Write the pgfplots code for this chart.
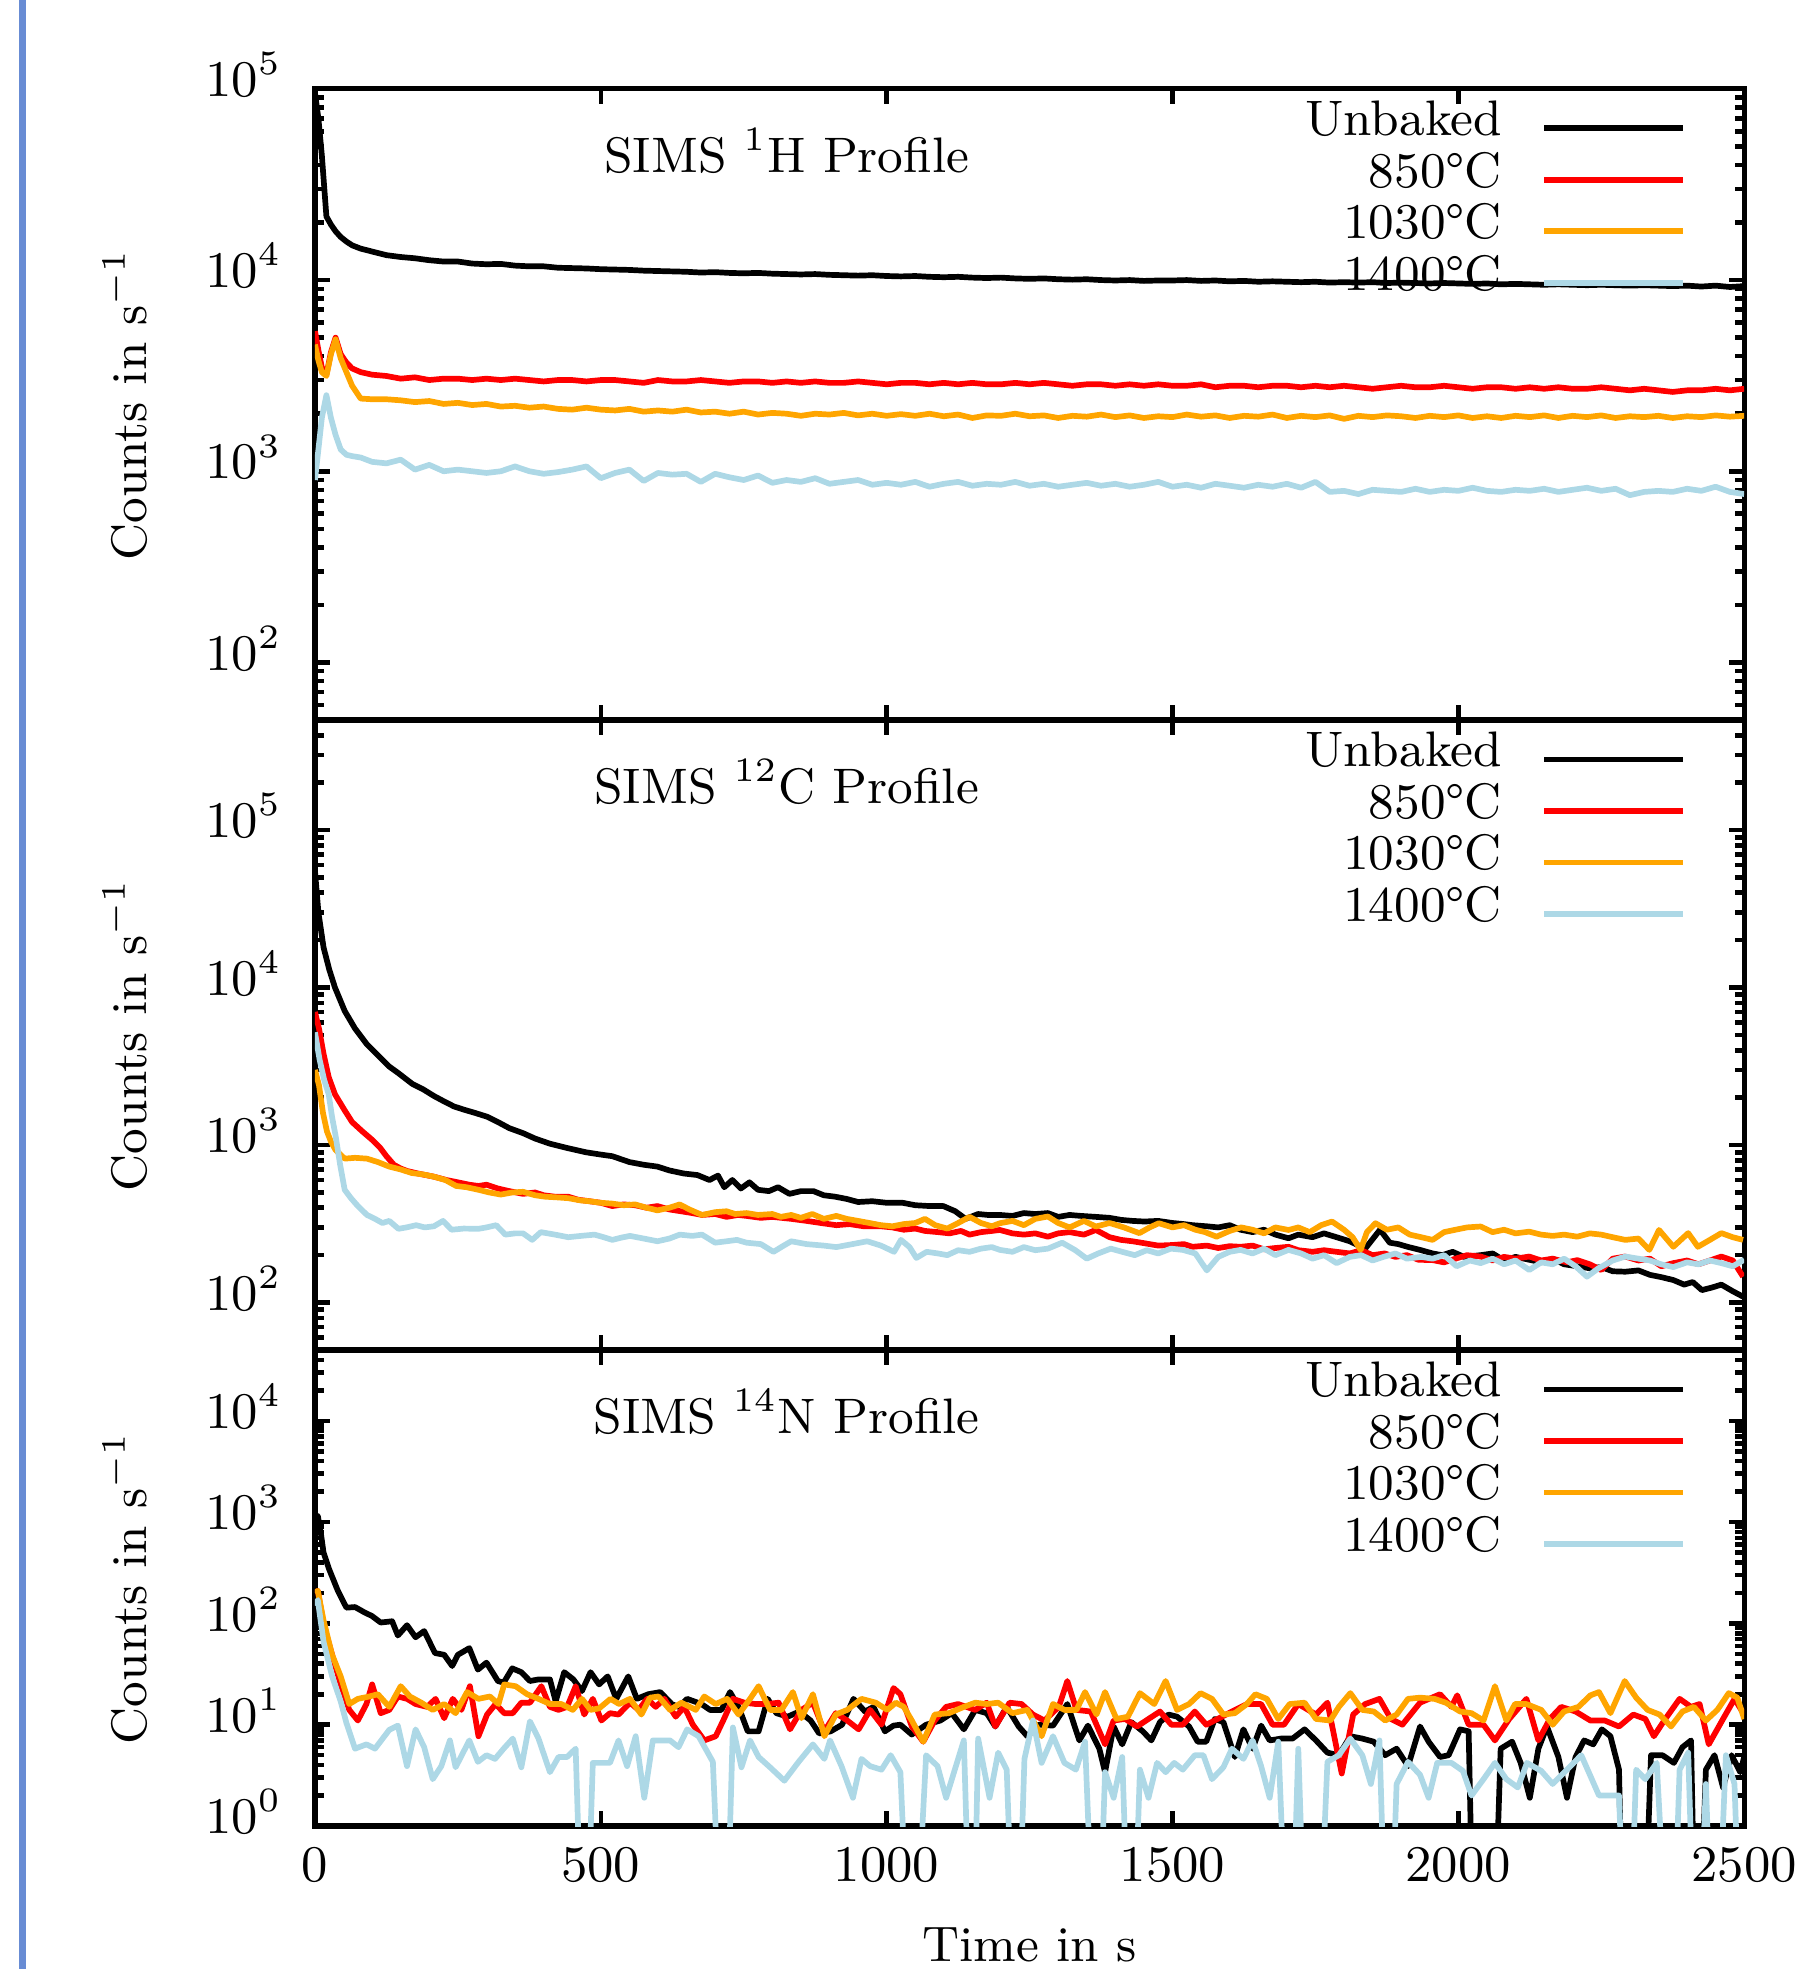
\documentclass[border=0pt]{standalone}
\usepackage{pgfplots}
\pgfplotsset{compat=1.18}
\definecolor{cOrange}{RGB}{255,165,0}
\definecolor{cBlue}{RGB}{173,216,230}
\definecolor{cFrame}{RGB}{104,140,212}
\pgfplotsset{
  /pgf/number format/1000 sep={},
  legend image code/.code={\draw[#1, line width=1pt] (0pt,-1.2pt) -- (24.4pt,-1.2pt);},
  every axis plot/.append style={line width=1pt, line join=round, mark=none},
  every axis y label/.style={at={(axis description cs:0,0.5)}, xshift=-29.5pt, rotate=90, anchor=base},
  every axis x label/.style={at={(axis description cs:0.5,0)}, yshift=-23.8pt, anchor=base},
  every tick label/.append style={font=\fontsize{9}{10.8}\selectfont},
  scale only axis, width=250.7pt,
  xmin=0, xmax=2500,
  xtick={0,500,1000,1500,2000,2500},
  tick align=inside, tick pos=both,
  xticklabel pos=lower, yticklabel pos=left,
  axis line style={line width=0.9pt},
  tick style={line width=0.8pt, black},
  major tick length=2.6pt, minor tick length=1.6pt,
  yticklabel style={xshift=-2.7pt, yshift=2.5pt},
  xticklabel style={yshift=-0.8pt},
  legend plot pos=right,
  legend cell align=right,
  legend style={draw=none, fill=none, at={(1,1)}, anchor=north east, xshift=-10.2pt, yshift=-1.2pt,
    inner sep=0pt, outer sep=0pt, row sep=0pt, column sep=6.9pt,
    nodes={inner sep=0pt, text height=7.03pt, text depth=2pt}},
}
\begin{document}
\fontsize{8.75}{10.5}\selectfont
\begin{tikzpicture}
\useasboundingbox (-55.25pt,-25.08pt) rectangle (260.47pt,320.3pt);
\draw[cFrame, line width=1.1pt] (-51.3pt,-25.08pt) -- (-51.3pt,320.3pt);

% ---------------- Top panel: 1H ----------------
\begin{semilogyaxis}[at={(0,194pt)}, anchor=south west, height=110.7pt,
  ymin=50, ymax=100000, ytick={100,1000,10000,100000},
  minor ytick={60,70,80,90,200,300,400,500,600,700,800,900,2000,3000,4000,5000,6000,7000,8000,9000,20000,30000,40000,50000,60000,70000,80000,90000},
  xticklabels={}, ylabel={Counts in s$^{-1}$}]
\node[anchor=base, yshift=-14.7pt] at (axis description cs:0.33,1) {SIMS $^{1}$H Profile};
\addplot[black] coordinates {(0,95000) (6,70000) (12,45000) (20,21500) (28,19500) (36,18000) (45,16800) (55,15900) (65,15200) (80,14600) (100,14100) (125,13500) (150,13200) (175,13000) (200,12700) (225,12500) (250,12500) (275,12200) (300,12100) (325,12150) (350,11900) (375,11800) (400,11800) (425,11600) (450,11550) (475,11500) (500,11400) (525,11350) (550,11300) (575,11200) (600,11150) (625,11100) (650,11050) (675,10950) (700,11000) (725,10900) (750,10850) (775,10900) (800,10800) (825,10750) (850,10700) (875,10750) (900,10650) (925,10600) (950,10550) (975,10600) (1000,10500) (1025,10450) (1050,10500) (1075,10400) (1100,10350) (1125,10400) (1150,10300) (1175,10250) (1200,10300) (1225,10200) (1250,10150) (1275,10200) (1300,10100) (1325,10050) (1350,10100) (1375,10000) (1400,9950) (1425,10000) (1450,9900) (1475,9950) (1500,9950) (1525,10000) (1550,9900) (1575,9950) (1600,9850) (1625,9900) (1650,9800) (1675,9850) (1700,9800) (1725,9750) (1750,9800) (1775,9700) (1800,9750) (1825,9700) (1850,9750) (1875,9650) (1900,9700) (1925,9650) (1950,9600) (1975,9650) (2000,9600) (2025,9550) (2050,9600) (2075,9500) (2100,9550) (2125,9500) (2150,9450) (2175,9500) (2200,9450) (2225,9400) (2250,9450) (2275,9400) (2300,9350) (2325,9400) (2350,9350) (2375,9300) (2400,9350) (2425,9250) (2450,9350) (2475,9200) (2500,9300)};
\addlegendentry{Unbaked}
\addplot[red] coordinates {(0,5400) (6,4300) (12,3500) (20,3200) (28,4200) (36,5000) (45,4100) (55,3700) (65,3450) (80,3300) (100,3200) (125,3150) (150,3050) (175,3100) (200,3000) (225,3050) (250,3050) (275,3000) (300,3050) (325,3000) (350,3050) (375,3000) (400,2950) (425,3000) (450,3000) (475,2950) (500,3000) (525,3000) (550,2950) (575,2900) (600,3000) (625,2950) (650,2950) (675,3000) (700,2950) (725,2900) (750,2950) (775,2950) (800,2900) (825,2950) (850,2900) (875,2950) (900,2900) (925,2900) (950,2950) (975,2900) (1000,2850) (1025,2900) (1050,2900) (1075,2850) (1100,2900) (1125,2850) (1150,2900) (1175,2850) (1200,2850) (1225,2900) (1250,2850) (1275,2900) (1300,2850) (1325,2800) (1350,2850) (1375,2850) (1400,2800) (1425,2850) (1450,2800) (1475,2850) (1500,2800) (1525,2800) (1550,2850) (1575,2750) (1600,2800) (1625,2800) (1650,2750) (1675,2800) (1700,2800) (1725,2750) (1750,2800) (1775,2750) (1800,2800) (1825,2750) (1850,2700) (1875,2750) (1900,2800) (1925,2750) (1950,2750) (1975,2800) (2000,2750) (2025,2700) (2050,2750) (2075,2750) (2100,2700) (2125,2750) (2150,2700) (2175,2750) (2200,2700) (2225,2700) (2250,2750) (2275,2700) (2300,2650) (2325,2700) (2350,2650) (2375,2600) (2400,2650) (2425,2650) (2450,2700) (2475,2650) (2500,2700)};
\addlegendentry{850\textdegree C}
\addplot[cOrange] coordinates {(0,4600) (6,3800) (12,3300) (20,3150) (28,4100) (36,4900) (45,3900) (55,3300) (65,2800) (80,2400) (100,2380) (125,2380) (150,2350) (175,2300) (200,2330) (225,2250) (250,2280) (275,2220) (300,2250) (325,2180) (350,2200) (375,2150) (400,2180) (425,2120) (450,2100) (475,2150) (500,2100) (525,2080) (550,2120) (575,2050) (600,2080) (625,2050) (650,2100) (675,2030) (700,2050) (725,2000) (750,2050) (775,1980) (800,2020) (825,2000) (850,1950) (875,2000) (900,1980) (925,2020) (950,1960) (975,2000) (1000,1950) (1025,1990) (1050,1950) (1075,2000) (1100,1940) (1125,1980) (1150,1900) (1175,1960) (1200,1950) (1225,2000) (1250,1940) (1275,1960) (1300,1900) (1325,1950) (1350,1930) (1375,1980) (1400,1920) (1425,1960) (1450,1900) (1475,1940) (1500,1920) (1525,1980) (1550,1930) (1575,1960) (1600,1900) (1625,1950) (1650,1930) (1675,1980) (1700,1900) (1725,1950) (1750,1920) (1775,1960) (1800,1880) (1825,1950) (1850,1920) (1875,1960) (1900,1940) (1925,1900) (1950,1950) (1975,1920) (2000,1960) (2025,1900) (2050,1940) (2075,1900) (2100,1950) (2125,1920) (2150,1960) (2175,1900) (2200,1950) (2225,1920) (2250,1960) (2275,1900) (2300,1940) (2325,1920) (2350,1950) (2375,1900) (2400,1940) (2425,1920) (2450,1960) (2475,1930) (2500,1950)};
\addlegendentry{1030\textdegree C}
\addplot[cBlue] coordinates {(0,900) (6,1300) (12,1900) (20,2500) (28,1900) (36,1550) (45,1300) (55,1220) (65,1200) (80,1180) (100,1120) (125,1100) (150,1150) (175,1020) (200,1080) (225,1000) (250,1020) (275,1000) (300,980) (325,1000) (350,1060) (375,1000) (400,970) (425,990) (450,1020) (475,1060) (500,920) (525,980) (550,1020) (575,890) (600,980) (625,960) (650,970) (675,880) (700,970) (725,930) (750,900) (775,950) (800,870) (825,900) (850,880) (875,920) (900,860) (925,880) (950,900) (975,850) (1000,870) (1025,850) (1050,880) (1075,830) (1100,860) (1125,880) (1150,840) (1175,860) (1200,850) (1225,880) (1250,840) (1275,860) (1300,830) (1325,850) (1350,870) (1375,840) (1400,860) (1425,830) (1450,850) (1475,880) (1500,830) (1525,850) (1550,820) (1575,860) (1600,840) (1625,820) (1650,850) (1675,830) (1700,860) (1725,820) (1750,880) (1775,780) (1800,790) (1825,760) (1850,800) (1875,790) (1900,780) (1925,810) (1950,780) (1975,800) (2000,790) (2025,820) (2050,790) (2075,780) (2100,800) (2125,790) (2150,810) (2175,780) (2200,800) (2225,820) (2250,790) (2275,810) (2300,750) (2325,780) (2350,790) (2375,780) (2400,810) (2425,790) (2450,830) (2475,780) (2500,760)};
\addlegendentry{1400\textdegree C}
\end{semilogyaxis}

% ---------------- Middle panel: 12C ----------------
\begin{semilogyaxis}[at={(0,83.5pt)}, anchor=south west, height=110.5pt,
  ymin=50, ymax=500000, ytick={100,1000,10000,100000},
  minor ytick={60,70,80,90,200,300,400,500,600,700,800,900,2000,3000,4000,5000,6000,7000,8000,9000,20000,30000,40000,50000,60000,70000,80000,90000,200000,300000,400000},
  xticklabels={}, ylabel={Counts in s$^{-1}$}]
\node[anchor=base, yshift=-14.7pt] at (axis description cs:0.33,1) {SIMS $^{12}$C Profile};
\addplot[black] coordinates {(0,55000) (6,30000) (15,18000) (25,13000) (35,10000) (52,7100) (70,5500) (90,4400) (114,3600) (130,3150) (146,2860) (170,2450) (190,2250) (208,2050) (225,1900) (243,1760) (260,1680) (280,1600) (302,1510) (320,1400) (340,1280) (364,1190) (385,1100) (411,1020) (440,960) (474,900) (500,870) (520,850) (550,780) (575,750) (599,730) (620,690) (645,660) (669,645) (690,600) (705,640) (716,540) (730,600) (745,530) (760,580) (775,520) (794,510) (810,540) (830,490) (850,510) (872,510) (890,480) (910,470) (930,455) (950,435) (975,440) (1000,430) (1028,430) (1050,415) (1075,410) (1099,410) (1120,380) (1138,340) (1160,365) (1177,360) (1198,360) (1220,355) (1240,370) (1260,365) (1282,370) (1300,350) (1320,360) (1340,355) (1366,350) (1390,345) (1410,335) (1430,330) (1451,327) (1475,330) (1500,320) (1520,315) (1535,310) (1560,305) (1580,300) (1600,310) (1619,290) (1640,280) (1660,290) (1680,270) (1703,256) (1720,270) (1745,260) (1765,275) (1787,260) (1810,245) (1837,220) (1863,290) (1880,240) (1895,235) (1913,225) (1935,215) (1955,205) (1972,200) (1990,210) (2010,195) (2039,200) (2060,205) (2080,185) (2100,195) (2124,187) (2145,180) (2165,190) (2185,175) (2208,170) (2230,165) (2250,168) (2270,158) (2292,157) (2315,160) (2335,150) (2355,145) (2376,139) (2395,130) (2410,135) (2426,120) (2445,125) (2460,130) (2480,118) (2498,109)};
\addlegendentry{Unbaked}
\addplot[red] coordinates {(0,7000) (7,5500) (15,3800) (24,2700) (35,2100) (52,1660) (65,1400) (83,1220) (100,1080) (114,960) (125,850) (138,750) (150,710) (161,685) (180,660) (208,630) (230,600) (250,580) (270,560) (286,550) (300,560) (320,530) (340,510) (364,490) (385,500) (400,480) (420,470) (443,470) (460,450) (480,440) (500,430) (520,410) (540,420) (560,415) (580,400) (599,410) (620,390) (640,380) (660,370) (677,360) (700,365) (720,350) (740,360) (755,355) (780,345) (800,350) (833,340) (860,330) (885,320) (912,310) (935,315) (960,305) (990,305) (1010,300) (1030,290) (1050,295) (1067,285) (1090,280) (1110,275) (1130,285) (1145,270) (1165,280) (1184,285) (1198,289) (1220,275) (1240,270) (1260,275) (1282,262) (1300,275) (1320,280) (1345,270) (1366,289) (1390,260) (1410,250) (1430,245) (1451,238) (1475,230) (1500,232) (1520,235) (1535,226) (1560,230) (1580,222) (1600,228) (1619,226) (1640,230) (1660,218) (1680,222) (1703,226) (1720,215) (1745,210) (1765,215) (1787,210) (1810,205) (1830,215) (1850,200) (1871,205) (1890,195) (1910,200) (1930,187) (1955,186) (1975,180) (1995,190) (2015,200) (2039,196) (2060,185) (2080,195) (2100,190) (2124,196) (2145,185) (2165,190) (2190,180) (2208,186) (2230,175) (2250,161) (2270,190) (2292,196) (2315,185) (2335,190) (2355,170) (2376,178) (2400,185) (2420,175) (2440,185) (2460,196) (2480,185) (2498,146)};
\addlegendentry{850\textdegree C}
\addplot[cOrange] coordinates {(0,3000) (7,2400) (14,1600) (21,1220) (28,1050) (36,930) (52,820) (70,830) (91,820) (110,780) (130,730) (150,700) (169,665) (190,650) (208,630) (228,600) (247,550) (265,540) (286,520) (305,500) (325,485) (345,500) (364,505) (385,480) (403,470) (425,465) (443,460) (465,445) (480,440) (500,430) (520,425) (540,415) (560,420) (580,400) (599,385) (620,400) (638,420) (655,390) (677,360) (700,375) (720,380) (735,365) (755,370) (775,360) (800,365) (815,350) (833,360) (850,345) (870,365) (890,340) (912,355) (930,340) (950,330) (970,320) (990,310) (1010,305) (1030,315) (1050,320) (1067,340) (1085,310) (1106,295) (1125,320) (1145,350) (1165,320) (1184,305) (1198,319) (1220,330) (1240,310) (1260,340) (1282,352) (1300,320) (1320,300) (1345,330) (1366,304) (1390,320) (1415,300) (1442,276) (1460,300) (1476,319) (1500,300) (1520,310) (1540,290) (1557,280) (1577,262) (1600,285) (1620,300) (1640,290) (1660,275) (1680,300) (1703,289) (1720,300) (1740,280) (1760,310) (1779,327) (1800,290) (1815,260) (1829,216) (1840,280) (1855,319) (1875,290) (1895,300) (1915,270) (1935,260) (1955,250) (1975,280) (1995,290) (2015,300) (2039,304) (2060,280) (2080,290) (2100,275) (2124,282) (2145,270) (2165,265) (2185,270) (2208,262) (2230,275) (2250,270) (2270,260) (2292,250) (2315,255) (2334,216) (2351,289) (2376,226) (2402,276) (2419,226) (2440,250) (2460,276) (2480,260) (2498,250)};
\addlegendentry{1030\textdegree C}
\addplot[cBlue] coordinates {(0,5200) (8,3500) (16,2600) (24,2100) (30,1500) (36,1150) (44,750) (52,520) (63,460) (75,410) (91,360) (105,340) (118,320) (130,330) (146,294) (160,300) (177,310) (192,300) (208,305) (224,330) (239,290) (260,295) (286,294) (300,300) (317,310) (333,270) (350,275) (364,275) (380,250) (395,280) (420,270) (443,260) (465,265) (489,270) (505,260) (520,250) (535,258) (551,265) (575,255) (599,245) (620,255) (638,270) (660,265) (677,270) (700,240) (720,245) (738,250) (755,240) (780,235) (802,210) (820,230) (833,245) (860,235) (890,230) (912,225) (940,235) (966,245) (990,230) (1013,210) (1025,250) (1040,225) (1052,192) (1070,210) (1090,205) (1106,200) (1125,215) (1145,210) (1165,220) (1184,225) (1198,216) (1220,210) (1240,225) (1260,215) (1282,220) (1307,240) (1330,215) (1350,190) (1370,205) (1392,220) (1412,210) (1434,200) (1455,215) (1475,205) (1497,220) (1518,216) (1540,205) (1560,160) (1580,195) (1600,210) (1619,216) (1640,205) (1660,220) (1680,200) (1703,216) (1725,205) (1745,190) (1765,200) (1787,178) (1810,195) (1830,200) (1850,185) (1871,196) (1890,205) (1910,190) (1935,195) (1955,190) (1975,200) (1997,170) (2020,185) (2039,178) (2060,190) (2080,175) (2100,185) (2124,161) (2145,180) (2165,175) (2185,190) (2205,170) (2225,146) (2245,165) (2270,185) (2292,196) (2315,190) (2335,185) (2355,175) (2376,168) (2400,180) (2420,175) (2440,185) (2460,178) (2480,170) (2500,187)};
\addlegendentry{1400\textdegree C}
\end{semilogyaxis}

% ---------------- Bottom panel: 14N ----------------
\begin{semilogyaxis}[at={(0,0)}, anchor=south west, height=83.5pt,
  ymin=1, ymax=50000, ytick={1,10,100,1000,10000},
  minor ytick={2,3,4,5,6,7,8,9,20,30,40,50,60,70,80,90,200,300,400,500,600,700,800,900,2000,3000,4000,5000,6000,7000,8000,9000,20000,30000,40000},
  xlabel={Time in s}, ylabel={Counts in s$^{-1}$}]
\node[anchor=base, yshift=-14.7pt] at (axis description cs:0.33,1) {SIMS $^{14}$N Profile};
\addplot[black] coordinates {(0,1100) (5,1150) (10,800) (15,500) (25,340) (40,210) (55,143) (70,145) (85,130) (100,118) (115,102) (135,105) (145,76) (161,96) (176,73) (191,84) (210,51) (226,49) (240,38) (250,49) (270,57) (285,35) (300,41) (320,27) (330,26) (345,36) (361,33) (376,27) (391,28) (411,28) (421,17) (436,33) (452,28) (467,21.5) (482,33) (497,25) (512,30) (527,18) (548,30) (563,18) (583,20) (604,21) (624,16) (636,15) (651,18) (676,16) (691,14) (711,14) (726,21) (741,15) (757,8.6) (776,8.6) (792,18) (807,13) (827,12) (847,13.5) (867,11) (882,8.2) (902,8.6) (922,10) (942,18) (962,13.5) (977,15) (997,8.6) (1012,9.8) (1024,10) (1044,8) (1069,10) (1094,11) (1114,13) (1135,9) (1155,14) (1175,13) (1190,9.6) (1210,15) (1231,9.6) (1246,7.7) (1266,10) (1291,9.8) (1316,16) (1337,7) (1352,9.8) (1372,5.8) (1382,3.4) (1397,9.6) (1412,6.4) (1428,10.6) (1448,8.6) (1463,7) (1478,10.6) (1493,12.6) (1508,12) (1529,9.6) (1544,6.8) (1559,6.8) (1574,11.4) (1589,10.6) (1609,4.8) (1624,9) (1640,5.8) (1655,9.8) (1670,7) (1690,7.3) (1710,7.3) (1731,9) (1751,7) (1771,5.3) (1791,5) (1811,7.7) (1832,7.3) (1852,6.8) (1872,5) (1892,5.8) (1912,3.9) (1933,9.6) (1948,6.8) (1968,4.8) (1983,5) (2003,9) (2018,8.6) (2029,0.01) (2058,0.01) (2074,5.8) (2094,6.8) (2109,4.2) (2125,1.9) (2140,5.8) (2155,9.6) (2175,4.8) (2190,1.9) (2205,4.8) (2220,7) (2236,6.4) (2251,9) (2266,7.7) (2281,3.6) (2291,0.01) (2320,0.01) (2337,5) (2357,5) (2377,4.2) (2392,6) (2407,7) (2417,0.01) (2433,3.6) (2448,5) (2463,2.4) (2478,5) (2493,3.4) (2500,4.8)};
\addlegendentry{Unbaked}
\addplot[red] coordinates {(0,200) (5,210) (15,97) (30,49) (45,25) (60,14) (75,11) (90,16) (100,25) (115,13) (130,14) (145,19) (161,18) (176,16) (196,15) (211,18) (226,11.6) (241,18) (256,14) (271,24) (286,7.7) (301,12.6) (316,16) (331,13) (346,13) (361,16.5) (376,16.5) (396,24) (411,15) (426,14) (441,15) (456,24) (471,12.6) (486,18) (501,11) (516,13) (531,12.6) (551,16.5) (566,14) (581,18) (596,15) (611,18) (631,12) (646,15) (661,10) (681,7) (701,7.7) (716,11.6) (731,18) (751,16.5) (771,16) (791,16) (811,16.5) (831,9) (851,14) (871,16.5) (891,8.6) (911,13) (931,11) (951,9) (971,14) (991,10) (1012,23) (1024,20) (1044,9.6) (1064,6.8) (1084,11) (1104,15) (1125,16) (1155,14) (1175,16.5) (1190,9.6) (1215,16.5) (1236,16) (1256,12.6) (1276,11) (1301,15) (1316,27) (1332,14) (1357,13.5) (1382,6.4) (1397,11) (1417,11.4) (1438,9.6) (1458,11.4) (1478,13.5) (1498,10) (1518,10) (1539,13.5) (1559,10) (1579,11.4) (1604,13.5) (1630,16) (1655,16) (1675,10) (1695,10) (1720,16) (1751,12.6) (1771,16.5) (1796,3.3) (1816,12.6) (1837,16) (1862,18) (1882,11.4) (1902,10) (1933,16.5) (1968,20) (1988,15) (1998,19.5) (2018,10) (2044,10) (2064,7) (2089,11.4) (2119,18) (2140,7) (2160,11.4) (2180,15) (2205,13.5) (2231,11) (2256,11) (2281,9.6) (2306,12.6) (2327,11.4) (2342,7.7) (2362,11.4) (2387,18) (2407,15) (2422,16) (2438,6.4) (2463,11.4) (2483,18) (2500,12.6)};
\addlegendentry{850\textdegree C}
\addplot[cOrange] coordinates {(0,200) (5,210) (15,107) (30,49) (45,30) (60,16) (75,18) (95,19) (110,20) (130,15) (150,24) (166,19) (186,16.5) (206,14) (226,16) (246,13) (266,21) (286,18) (306,19) (321,16) (331,25) (351,24) (371,20) (391,18) (411,16) (431,16) (451,14) (467,18) (482,14) (497,14.5) (517,18) (532,16) (551,18) (571,12.6) (586,18.5) (601,19) (621,14) (641,16.5) (666,14) (681,19) (701,16) (721,18) (741,12.6) (761,18) (776,24) (796,14) (816,14) (836,21) (851,11.6) (871,20) (891,7.7) (911,12.6) (931,14) (956,18) (981,16.5) (1001,14) (1016,16.5) (1030,15) (1044,11) (1064,6.8) (1084,12.6) (1109,13) (1135,15) (1155,16.5) (1175,16) (1195,16.5) (1220,13) (1246,14) (1271,7.7) (1291,16) (1311,14) (1332,14) (1347,21) (1367,12.6) (1382,21) (1402,11.4) (1422,12) (1443,20.5) (1468,16) (1488,27) (1508,14) (1529,16) (1549,20.5) (1569,18) (1589,12.6) (1609,13) (1630,16) (1645,20) (1665,18) (1685,11.4) (1705,16) (1731,16.5) (1751,11.4) (1776,11) (1791,15) (1811,20.5) (1832,14) (1852,13.5) (1872,11) (1892,12.6) (1912,18) (1933,18.5) (1958,18) (1978,16.5) (2003,13.5) (2023,13) (2044,11) (2064,24) (2084,11) (2099,16) (2119,16) (2145,14) (2165,10) (2185,13.5) (2210,15) (2231,19.5) (2246,21) (2266,13) (2291,27) (2311,18.5) (2331,14) (2352,12.6) (2372,9.6) (2392,13.5) (2412,15) (2433,11) (2453,14) (2473,20.5) (2488,18.5) (2500,11.4)};
\addlegendentry{1030\textdegree C}
\addplot[cBlue] coordinates {(0,150) (5,170) (15,66) (30,30) (45,17) (55,10.4) (70,5.8) (90,6.4) (105,5.8) (130,8.9) (145,9.8) (161,3.9) (176,9) (191,6) (206,2.9) (221,3.9) (236,7) (246,3.8) (270,7) (285,4.3) (300,5) (315,4.6) (330,5.8) (346,7.3) (361,3.8) (376,10.8) (391,7.3) (411,3.4) (426,4.8) (441,4.8) (456,5.8) (471,0.01) (486,4.2) (501,4.2) (516,4.2) (531,7) (546,3.9) (561,7.7) (576,1.9) (591,7) (606,7) (621,7) (636,6) (651,9) (671,7.7) (696,4.3) (716,0.01) (731,9.4) (746,3.8) (761,7) (776,4.8) (796,3.8) (821,2.8) (846,4.3) (871,6.4) (891,4.6) (901,7) (921,3.9) (941,1.9) (956,4.6) (971,3.9) (991,3.6) (1007,5) (1024,3.4) (1044,0.01) (1069,5) (1089,3.9) (1104,1.9) (1135,7) (1150,0.01) (1160,7.3) (1180,1.9) (1195,5.3) (1210,3.6) (1226,0.01) (1241,4.6) (1256,11) (1271,4.2) (1291,7.7) (1311,4.2) (1331,3.6) (1347,6.8) (1367,0.01) (1382,3.4) (1397,1.9) (1412,4.8) (1428,0.01) (1443,3.6) (1458,1.9) (1473,4.2) (1488,3.4) (1503,4.2) (1518,3.6) (1539,5) (1554,5) (1569,2.9) (1589,3.8) (1604,5.8) (1624,4.6) (1640,7) (1655,3.9) (1670,1.9) (1685,6.8) (1705,0.01) (1720,5.8) (1736,0.01) (1751,0.01) (1771,4.3) (1791,5) (1811,7.3) (1832,5) (1847,2.6) (1862,7) (1877,0.01) (1892,2.6) (1912,4.3) (1933,3.2) (1948,1.9) (1963,4.2) (1988,4.2) (2008,3.5) (2023,2) (2044,2.9) (2064,4.2) (2084,2.9) (2104,2.4) (2120,4.2) (2145,3.5) (2165,2.6) (2190,3.6) (2215,5) (2246,2) (2281,2) (2296,0.01) (2311,3.6) (2327,2.9) (2347,4.2) (2372,0.01) (2387,3.6) (2402,5.3) (2417,0.01) (2433,2.6) (2448,0.01) (2468,5) (2483,2.6) (2498,0.01)};
\addlegendentry{1400\textdegree C}
\end{semilogyaxis}
\end{tikzpicture}
\end{document}
